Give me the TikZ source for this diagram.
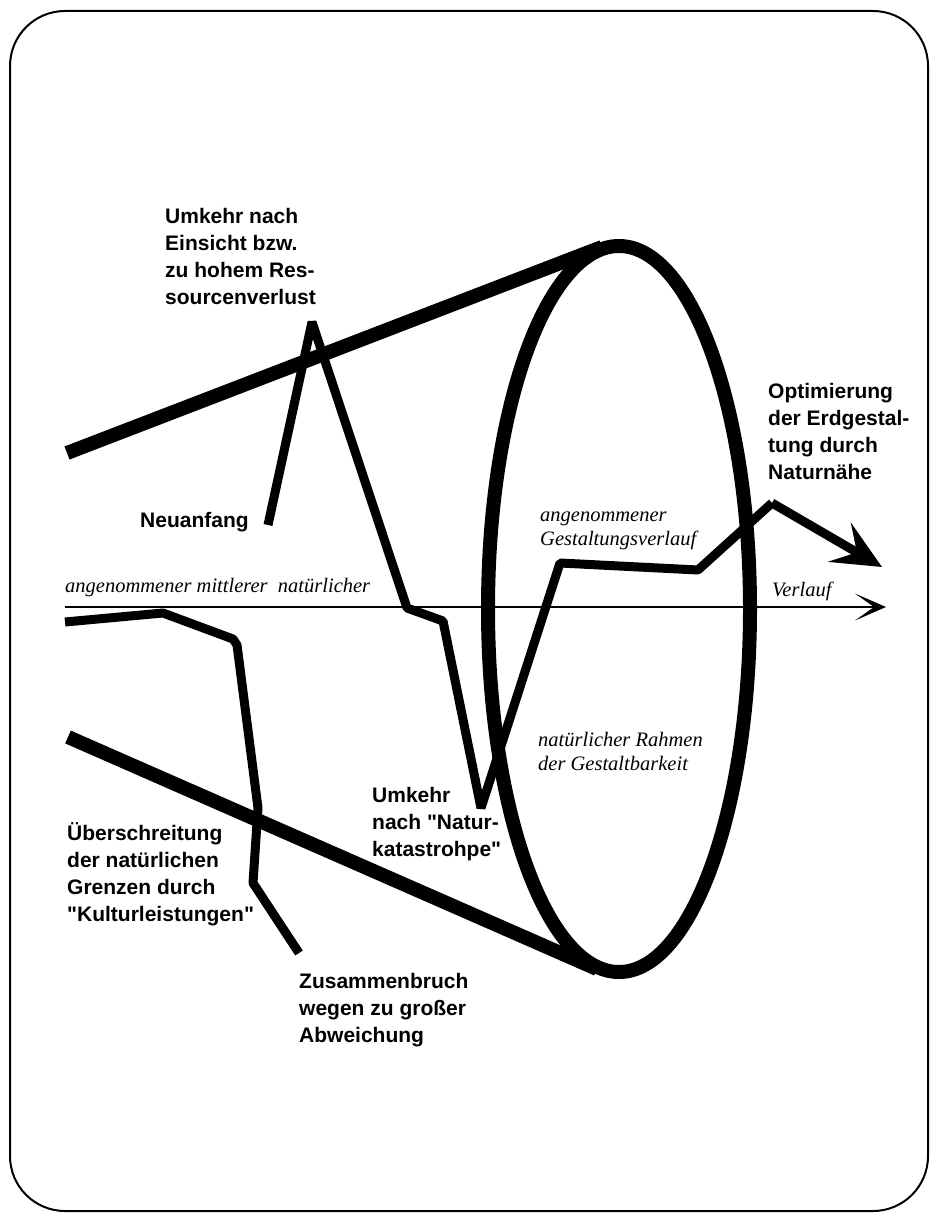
\documentclass[tikz,border=0pt]{standalone}
\usepackage{fontspec}
\newfontfamily\lblfont{Liberation Sans}
\newfontfamily\serfont{Liberation Serif}
\usetikzlibrary{arrows.meta}
\begin{document}
\begin{tikzpicture}[x=1pt,y=-1pt,
  lbl/.style={font=\lblfont\bfseries\fontsize{21}{27}\selectfont, align=left, inner sep=0pt, anchor=base west},
  ital/.style={font=\serfont\itshape\fontsize{20.5}{24}\selectfont, align=left, inner sep=0pt, anchor=base west},
  rimline/.style={line width=14pt},
  curveline/.style={line width=9pt, line join=bevel},
  axisline/.style={line width=2.2pt},
  framebox/.style={line width=2pt, rounded corners=55pt}
]
\useasboundingbox (0,0) rectangle (931,1214);
% frame
\draw[framebox] (10,11) rectangle (928,1211);

% cone: ellipse and two rim lines
\draw[rimline] (619,609) ellipse [x radius=131pt, y radius=363pt];
\coordinate (ellTop) at (602,247);
\coordinate (ellBot) at (597,969);
\coordinate (upL) at (67,453);
\coordinate (loL) at (68,737);
\draw[rimline] (upL) -- (ellTop);
\draw[rimline] (loL) -- (ellBot);

% axis
\coordinate (ax0) at (65,607);
\coordinate (ax1) at (886,607);
\draw[axisline, -{Stealth[length=31pt,width=27pt,inset=19pt]}] (ax0) -- (ax1);

% path A (Neuanfang -> Optimierung)
\coordinate (a0) at (268,525);
\coordinate (a1) at (312,322);
\coordinate (a2) at (407,608);
\coordinate (a3) at (443,621);
\coordinate (a4) at (481,808);
\coordinate (a5) at (560,563);
\coordinate (a6) at (698,570);
\coordinate (a7) at (772,503);
\coordinate (a8) at (882,567);
\draw[curveline] (a0) -- (a1) -- (a2) -- (a3) -- (a4) -- (a5) -- (a6) -- (a7);
\draw[curveline, line cap=butt, -{Stealth[length=49pt,width=45pt,inset=20pt]}] (a7) -- (a8);

% path B (Ueberschreitung -> Zusammenbruch)
\coordinate (b0) at (65,622);
\coordinate (b1) at (163,613);
\coordinate (b2) at (233,639);
\coordinate (b3) at (237,645);
\coordinate (b4) at (258,808);
\coordinate (b5) at (253,883);
\coordinate (b6) at (299,953);
\draw[curveline] (b0) -- (b1) -- (b2) -- (b3) -- (b4) -- (b5) -- (b6);

% labels (anchor = baseline of last line)
\node[lbl] (tUmkehrEins) at (165,305) {Umkehr nach\\Einsicht bzw.\\zu hohem Res-\\sourcenverlust};
\node[lbl] (tNeu) at (140,527) {Neuanfang};
\node[lbl] (tOpt) at (768,479) {Optimierung\\der Erdgestal-\\tung durch\\Naturnähe};
\node[ital] (tGest) at (540,545) {angenommener\\Gestaltungsverlauf};
\node[ital] (tMittl) at (65,592) {angenommener mittlerer\ \ natürlicher};
\node[ital] (tVerl) at (772,596) {Verlauf};
\node[ital] (tRahmen) at (538,770) {natürlicher Rahmen\\der Gestaltbarkeit};
\node[lbl] (tKat) at (372,856) {Umkehr\\nach "Natur-\\katastrohpe"};
\node[lbl] (tUeber) at (67,921) {Überschreitung\\der natürlichen\\Grenzen durch\\"Kulturleistungen"};
\node[lbl] (tZus) at (299,1042) {Zusammenbruch\\wegen zu großer\\Abweichung};
\end{tikzpicture}
\end{document}
